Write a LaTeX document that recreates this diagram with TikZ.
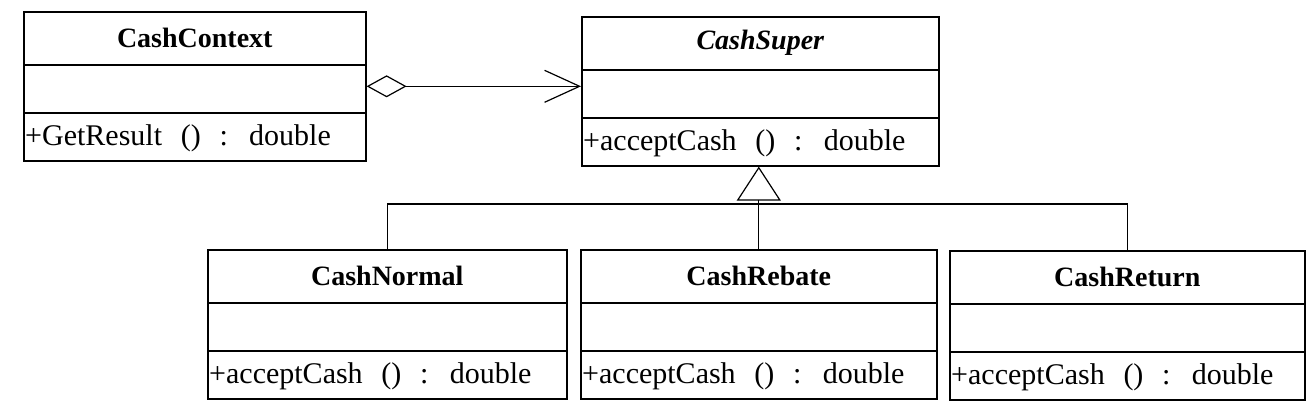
\documentclass[tikz,border=0pt]{standalone}
\usepackage{fontspec}
\setmainfont{Liberation Serif}
\newfontfamily\opfont[WordSpace=2.5]{Liberation Serif}
\usetikzlibrary{calc,positioning,arrows.meta}

\tikzset{
	classbox/.style={draw,line width=1.6pt,minimum height=149pt,inner sep=0pt,anchor=north west},
	classline/.style={line width=1.6pt},
	classtitle/.style={font=\fontsize{28}{32}\selectfont\bfseries,inner sep=0pt},
	classop/.style={font=\opfont\fontsize{30}{34}\selectfont,inner sep=0pt,anchor=west},
	relation/.style={line width=1.2pt}
}

% class box: name, position, width, title, operation
\newcommand{\umlclass}[5]{%
	\node[classbox,minimum width=#3pt] (#1) at #2 {};
	\draw[classline] ($(#1.north west)+(0,54)$) -- ++(#3,0);
	\draw[classline] ($(#1.north west)+(0,102)$) -- ++(#3,0);
	\node[classtitle] (#1-title) at ($(#1.north)+(0,27)$) {#4};
	\node[classop] (#1-op) at ($(#1.south west)+(2,-23.5)$) {#5};
}

\begin{document}
\begin{tikzpicture}[x=1pt,y=-1pt]
	\useasboundingbox (0,0) rectangle (1309,413);
	\fill[white] (0,0) rectangle (1309,413);
	\umlclass{ctx}{(23,11)}{342}{CashContext}{+GetResult () : double}
	\umlclass{sup}{(581,16)}{357}{\itshape CashSuper}{+acceptCash () : double}
	\umlclass{nor}{(207,249)}{359}{CashNormal}{+acceptCash () : double}
	\umlclass{reb}{(580,249)}{356}{CashRebate}{+acceptCash () : double}
	\umlclass{ret}{(949,250)}{355}{CashReturn}{+acceptCash () : double}
	% aggregation
	\draw[relation,{Diamond[open,length=40pt,width=22pt]}-{Straight Barb[length=35pt,width=32pt]}] (ctx.east) -- (ctx.east -| sup.west);
	% generalization
	\draw[relation,-{Triangle[open,length=34pt,width=44pt]}] (reb.north) -- (reb.north |- sup.south);
	\draw[relation] (nor.north) -- ++(0,-45) coordinate (branch) -| (ret.north);
\end{tikzpicture}
\end{document}
